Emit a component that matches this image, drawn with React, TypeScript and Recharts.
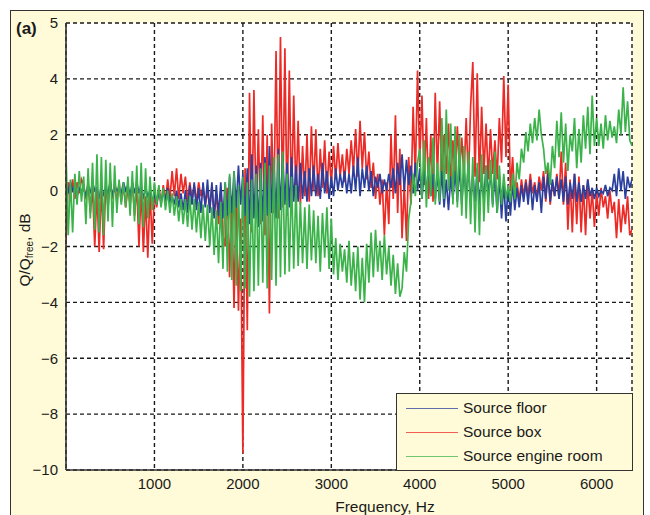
import { LineChart, Line, XAxis, YAxis, CartesianGrid } from "recharts";

// Q/Qfree vs frequency, three source positions (25 Hz steps, 0..6400 Hz)
const FREQ_STEP = 25;

const sourceFloor = [
  0.2, -0.1, 0.3, 0.0, 0.2, -0.2, 0.1, 0.0,
  0.1, -0.2, 0.2, -0.1, 0.3, 0.0, 0.1, -0.3,
  0.2, -0.2, 0.1, -0.1, 0.3, -0.2, 0.2, 0.0,
  0.1, -0.1, 0.3, 0.0, 0.2, -0.2, 0.3, -0.1,
  0.3, -0.1, 0.2, -0.3, 0.1, -0.2, 0.0, -0.4,
  -0.1, -0.5, 0.0, -0.4, -0.1, -0.3, 0.1, -0.4,
  -0.2, -0.5, 0.0, -0.6, -0.1, -0.7, 0.0, -0.8,
  0.2, -0.5, 0.3, -0.7, 0.1, -0.8, 0.3, -0.6,
  0.4, -0.8, 0.3, -1.0, 0.2, -0.9, 0.3, -1.0,
  0.3, -0.9, 0.5, -0.8, 0.7, -0.6, 0.9, -0.5,
  0.6, -0.9, 0.8, -1.2, 1.3, -1.0, 0.9, -1.3,
  1.0, -1.1, 1.2, -0.9, 1.6, -0.8, 1.1, -1.0,
  1.5, -0.7, 1.3, -0.5, 1.0, -0.6, 1.2, -0.4,
  0.9, -0.4, 1.0, -0.3, 0.7, -0.4, 0.8, -0.2,
  0.9, -0.2, 0.6, -0.3, 1.0, -0.1, 0.7, -0.3,
  0.5, -0.2, 0.8, 0.0, 0.6, 0.1, 0.7, -0.1,
  0.6, -0.1, 0.9, 0.0, 1.2, -0.2, 0.8, 0.1,
  0.9, 0.0, 0.7, -0.2, 0.5, 0.1, 0.6, -0.1,
  0.4, 0.0, 0.6, 0.1, 0.8, -0.1, 1.0, 0.2,
  1.3, 0.0, 1.1, 0.2, 0.9, -0.1, 1.0, 0.0,
  0.8, -0.3, 0.7, -0.1, 0.9, -0.2, 0.6, -0.3,
  0.6, -0.5, 0.7, -0.6, 0.4, -0.7, 0.5, -0.3,
  0.7, -0.4, 0.9, -0.5, 0.8, -0.3, 1.0, -0.5,
  0.6, -0.4, 0.8, -0.5, 0.5, -0.3, 0.9, -0.2,
  0.7, -0.5, 0.6, -0.8, 0.5, -1.0, 0.3, -1.1,
  0.2, -0.9, 0.3, -0.7, 0.1, -0.6, 0.2, -0.4,
  0.3, -0.5, 0.4, -0.7, 0.2, -0.4, 0.3, -0.8,
  0.5, -0.3, 0.6, -0.4, 0.4, -0.2, 0.5, -0.3,
  0.4, -0.4, 0.5, -0.5, 0.3, -0.3, 0.6, -0.4,
  0.3, -0.4, 0.2, -0.3, 0.4, -0.2, 0.1, -0.3,
  0.1, -0.2, 0.0, -0.1, 0.2, -0.2, 0.1, 0.0,
  0.6, -0.2, 0.8, 0.0, 0.7, -0.3, 0.5, 0.1,
  0.4,
];

const sourceBox = [
  -1.8, 0.3, -0.2, 0.4, -0.3, 0.3, -0.1, 0.4,
  0.2, -0.3, 0.3, -0.8, 0.1, -2.0, 0.0, -2.2,
  0.2, -2.1, 0.3, -0.6, 0.4, -0.3, 0.2, -0.4,
  0.3, -0.4, 0.2, -0.6, 0.1, -0.5, 0.3, -0.9,
  0.2, -2.0, 0.1, -2.2, -0.2, -2.4, 0.0, -1.9,
  -0.1, -0.6, 0.1, -0.5, 0.2, -0.4, 0.4, -0.3,
  0.7, -0.2, 0.8, -0.3, 0.6, -0.1, 0.5, -0.4,
  0.3, -0.3, 0.2, -0.4, 0.3, -0.2, 0.1, -0.5,
  0.0, -0.6, 0.2, -0.9, -0.1, -1.2, 0.0, -1.6,
  -2.0, 0.1, -3.1, -0.2, -4.2, 0.0, -4.3, -1.0,
  -9.4, 0.8, -5.0, 3.5, -1.5, 3.6, -0.9, 2.2,
  -1.2, 2.7, -1.6, 2.0, -4.4, 2.4, -0.8, 5.0,
  -1.0, 5.5, -0.6, 5.1, -0.9, 4.3, -0.5, 3.4,
  -0.3, 2.5, -0.5, 1.6, -0.2, 2.0, -0.4, 2.3,
  0.0, 2.2, -0.2, 1.5, 0.1, 1.8, -0.1, 1.4,
  0.2, 1.6, 0.4, 1.7, 0.5, 1.3, 0.3, 1.5,
  0.6, 1.8, 0.7, 2.2, 0.5, 2.5, 0.8, 2.1,
  0.4, 1.4, 0.1, 1.0, -0.3, 0.6, -0.5, 0.4,
  -1.6, 0.3, -1.2, 2.0, -0.3, 2.7, -0.8, 1.5,
  -1.7, 0.2, -1.8, 1.2, -0.5, 3.0, 0.5, 4.3,
  1.0, 3.4, 0.2, 2.6, -0.3, 2.0, -0.4, 3.5,
  0.5, 3.2, 0.3, 2.0, 0.6, 2.4, 0.2, 1.8,
  0.4, 2.3, 0.7, 1.9, 0.5, 2.6, 0.3, 3.0,
  4.6, 0.5, 4.2, 0.3, 3.0, 0.6, 2.4, 0.4,
  2.2, 0.6, 1.8, 0.4, 2.6, 1.0, 4.1, 1.2,
  3.8, 0.0, 1.2, -0.3, 0.3, -0.4, 0.4, -0.2,
  0.4, -0.2, 0.6, -0.1, 0.3, -0.3, 0.5, 0.0,
  0.7, -0.4, 0.9, -0.5, 0.3, -0.2, 0.6, -0.3,
  1.4, -0.5, 1.0, -1.4, 0.4, -1.5, 0.6, -1.2,
  0.5, -1.5, 0.2, -1.6, 0.4, -1.0, 0.0, -1.3,
  -0.1, -0.9, 0.1, -0.6, -0.2, -1.0, 0.0, -0.8,
  -0.4, -1.7, -0.3, -1.5, -0.5, -1.2, -0.2, -1.6,
  -1.4,
];

const sourceEngineRoom = [
  1.3, -1.6, 0.4, -1.5, 0.6, -0.5, 0.7, -0.4,
  0.5, -1.2, 0.8, -1.0, 1.0, -1.4, 1.3, -1.5,
  1.2, -1.6, 1.1, -1.1, 1.0, -1.3, 0.9, -0.8,
  0.4, -0.5, 0.3, -0.6, 0.5, -0.9, 0.7, -1.1,
  0.9, -1.2, 1.0, -1.3, 0.8, -1.0, 0.5, -0.7,
  0.3, -0.5, 0.2, -0.6, 0.1, -0.7, 0.0, -0.8,
  -0.1, -0.9, -0.2, -1.1, -0.3, -1.2, -0.3, -1.3,
  -0.2, -1.4, -0.3, -1.5, -0.4, -1.7, -0.5, -1.8,
  -0.5, -2.0, -0.6, -2.3, -0.7, -2.6, -0.4, -2.8,
  0.3, -2.9, 0.6, -3.2, 0.7, -3.4, 0.2, -3.6,
  0.5, -3.5, 0.3, -3.8, 0.4, -3.6, 0.6, -3.4,
  0.8, -3.3, 1.0, -3.5, 0.9, -3.2, 1.2, -3.4,
  1.3, -3.1, 1.4, -3.0, 0.6, -2.9, 0.5, -2.8,
  0.2, -2.7, -0.4, -2.6, -0.6, -2.8, -0.5, -2.5,
  -0.7, -2.6, -0.9, -2.9, -0.8, -2.4, -0.6, -2.8,
  -1.0, -3.0, -1.7, -3.2, -1.9, -2.9, -2.1, -3.3,
  -1.8, -3.4, -2.2, -3.6, -2.0, -3.9, -2.4, -4.0,
  -1.9, -3.3, -1.5, -3.1, -1.4, -2.9, -1.8, -3.2,
  -1.6, -3.0, -2.0, -3.4, -2.3, -3.7, -2.6, -3.8,
  -3.5, -2.2, -2.9, -1.0, -0.4, 0.6, -0.2, 1.0,
  1.5, -0.3, 1.8, -0.6, 1.2, -0.2, 1.9, -0.5,
  1.0, -0.4, 2.6, -0.3, 2.9, 0.0, 2.4, -0.5,
  2.3, -0.6, 2.0, -0.9, 1.6, -1.0, 1.4, -1.2,
  1.2, -1.5, 1.0, -1.6, 1.3, -1.1, 0.9, -0.8,
  1.1, -0.6, 1.4, -0.8, 0.9, -0.5, 0.6, -0.3,
  0.2, -0.4, 0.6, -0.3, 1.0, 0.4, 1.5, 1.0,
  2.1, 1.4, 2.4, 1.7, 2.6, 1.8, 2.9, 2.0,
  1.5, 0.6, 1.0, 0.2, 1.6, 0.8, 2.5, 1.2,
  2.8, 1.0, 2.4, 0.7, 2.0, 1.4, 2.6, 0.8,
  2.2, 1.0, 2.7, 1.5, 3.0, 1.3, 3.4, 1.6,
  2.6, 1.6, 2.4, 1.5, 2.7, 1.8, 2.5, 1.9,
  2.3, 1.7, 2.9, 2.0, 3.7, 2.1, 3.2, 1.8,
  1.6,
];

const xTicks = [1000, 2000, 3000, 4000, 5000, 6000];
const yTicks = [-10, -8, -6, -4, -2, 0, 2, 4, 6];
const yTickLabels = ["\u221210", "\u22128", "\u22126", "\u22124", "\u22122", "0", "2", "4", "5"];

const seriesNames = ["Source floor", "Source box", "Source engine room"];
const seriesColors = ["#2b3f9e", "#ec2a26", "#3cb34a"];

const n = Math.min(sourceFloor.length, sourceBox.length, sourceEngineRoom.length);
const data = sourceFloor.slice(0, n).map((v, i) => ({
  f: i * FREQ_STEP,
  floor: v,
  box: sourceBox[i],
  engine: sourceEngineRoom[i],
}));

const FONT = '"Liberation Sans", Arial, Helvetica, sans-serif';
const CREAM = "#fffad8";
const INK = "#1a1a1a";

export default function App() {
  const tickStyle = { fontSize: 15, fill: INK, fontFamily: FONT };
  return (
    <div
      style={{
        position: "fixed",
        left: 0,
        top: 0,
        width: 650,
        height: 515,
        overflow: "hidden",
        background: "#fff",
        fontFamily: FONT,
        color: INK,
      }}
    >
      <div
        style={{
          position: "absolute",
          left: 10,
          top: 10,
          width: 634,
          height: 530,
          background: CREAM,
          border: "1.5px solid #333",
          boxSizing: "border-box",
        }}
      />
      <div style={{ position: "absolute", left: 0, top: 0 }}>
        <LineChart
          width={650}
          height={515}
          data={data}
          margin={{ top: 23, right: 18, left: 0, bottom: 15 }}
        >
          <CartesianGrid
            fill="#ffffff"
            stroke={INK}
            strokeDasharray="4 3"
            strokeWidth={1.4}
          />
          <XAxis
            dataKey="f"
            type="number"
            domain={[0, 6400]}
            ticks={xTicks}
            tick={tickStyle}
            tickLine={false}
            axisLine={{ stroke: "#333", strokeWidth: 1.6 }}
            height={30}
            allowDataOverflow
          />
          <XAxis
            xAxisId="top"
            orientation="top"
            dataKey="f"
            type="number"
            domain={[0, 6400]}
            tick={false}
            tickLine={false}
            axisLine={{ stroke: "#333", strokeWidth: 1.6 }}
            height={0}
          />
          <YAxis
            type="number"
            domain={[-10, 6]}
            ticks={yTicks}
            tickFormatter={(v: number) => yTickLabels[yTicks.indexOf(v)] ?? String(v)}
            tick={tickStyle}
            tickLine={false}
            axisLine={{ stroke: "#333", strokeWidth: 1.6 }}
            width={66}
            allowDataOverflow
          />
          <YAxis
            yAxisId="right"
            orientation="right"
            type="number"
            domain={[-10, 6]}
            tick={false}
            tickLine={false}
            axisLine={{ stroke: "#333", strokeWidth: 1.6 }}
            width={0}
          />
          <Line
            dataKey="box"
            type="linear"
            stroke={seriesColors[1]}
            strokeWidth={1.7}
            dot={false}
            isAnimationActive={false}
          />
          <Line
            dataKey="floor"
            type="linear"
            stroke={seriesColors[0]}
            strokeWidth={1.7}
            dot={false}
            isAnimationActive={false}
          />
          <Line
            dataKey="engine"
            type="linear"
            stroke={seriesColors[2]}
            strokeWidth={1.7}
            dot={false}
            isAnimationActive={false}
          />
        </LineChart>
      </div>

      {/* legend box, bottom-right of the plot */}
      <div
        style={{
          position: "absolute",
          left: 396,
          top: 393,
          width: 237,
          height: 78,
          background: CREAM,
          border: "1.5px solid #333",
          boxSizing: "border-box",
        }}
      >
        {seriesNames.map((name, i) => (
          <div
            key={name}
            style={{
              position: "absolute",
              left: 9,
              top: 3 + i * 24,
              height: 22,
              display: "flex",
              alignItems: "center",
              whiteSpace: "nowrap",
            }}
          >
            <span
              style={{
                display: "inline-block",
                width: 52,
                height: 0,
                borderTop: `1.5px solid ${seriesColors[i]}`,
                opacity: 0.75,
                marginRight: 5,
              }}
            />
            <span style={{ fontSize: 15.5 }}>{name}</span>
          </div>
        ))}
      </div>

      <div
        style={{
          position: "absolute",
          left: 16,
          top: 19,
          fontSize: 17,
          fontWeight: "bold",
        }}
      >
        (a)
      </div>

      <div
        style={{
          position: "absolute",
          left: 25,
          top: 250,
          transform: "translate(-50%, -50%) rotate(-90deg)",
          fontSize: 15.5,
          whiteSpace: "nowrap",
        }}
      >
        Q/Q<sub style={{ fontSize: 10, verticalAlign: "-3px" }}>free</sub>, dB
      </div>

      <div
        style={{
          position: "absolute",
          left: 385,
          top: 507,
          transform: "translate(-50%, -50%)",
          fontSize: 15.5,
          whiteSpace: "nowrap",
        }}
      >
        Frequency, Hz
      </div>
    </div>
  );
}
